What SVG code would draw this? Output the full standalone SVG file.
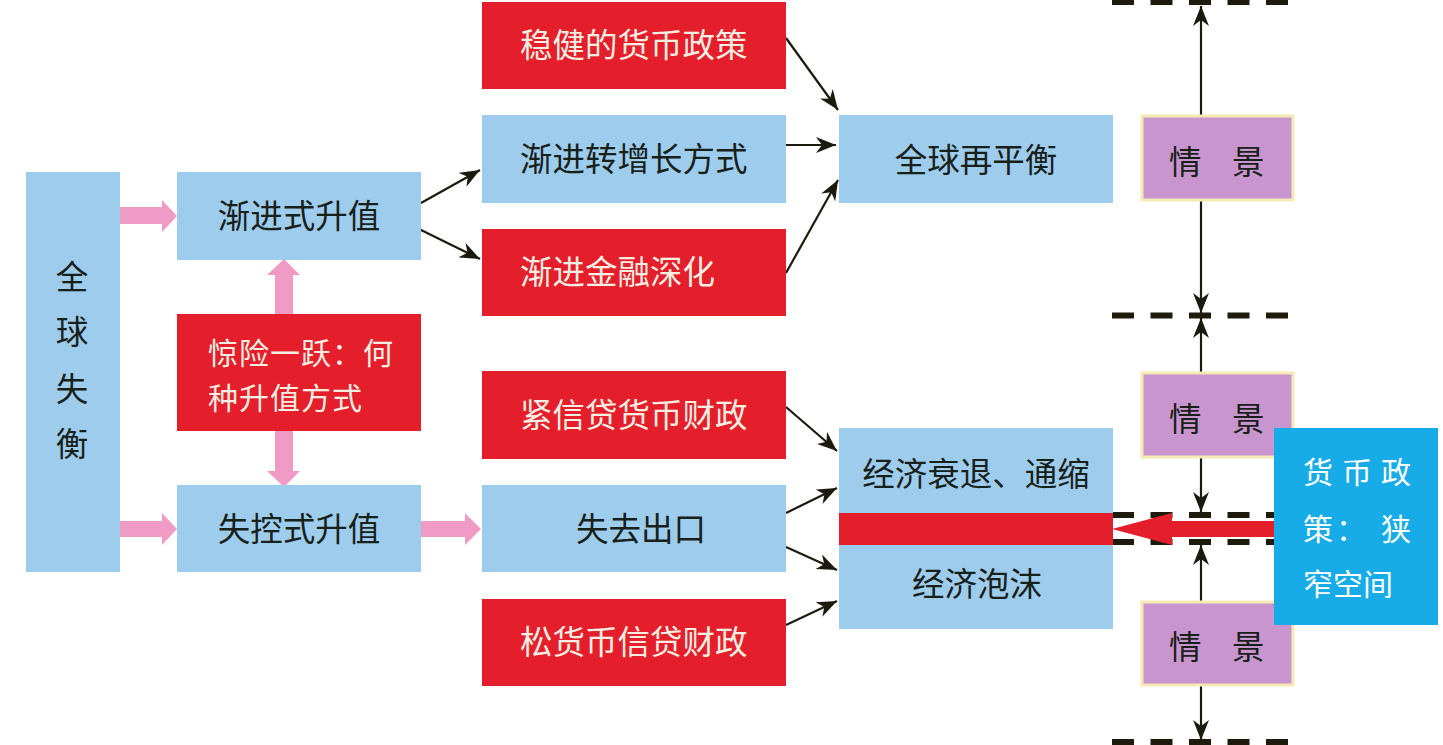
<svg xmlns="http://www.w3.org/2000/svg" width="1443" height="745" viewBox="0 0 1443 745">
<style>
.lb{fill:#9DCCEC}
.rd{fill:#E41E2B}
.pu{fill:#C895CF;stroke:#F6EAB4;stroke-width:3}
.t{font-family:"Noto Sans CJK SC","Noto Sans",sans-serif;font-size:32.5px;fill:#18201A}
.tw{font-family:"Noto Sans CJK SC","Noto Sans",sans-serif;font-size:32.5px;fill:#F6EEE2}
.pk{fill:#F09BC6}
.ln{stroke:#1B1A0C;stroke-width:2.2;fill:none;marker-end:url(#ah)}
.dash{stroke:#1F1B0C;stroke-width:6;stroke-dasharray:22 16.5;fill:none}
</style>
<defs>
<marker id="ah" markerUnits="userSpaceOnUse" markerWidth="22" markerHeight="16" refX="20" refY="8" orient="auto">
<path d="M0,0 L20,8 L0,16 L6,8 Z" fill="#1B1A0C"/>
</marker>
</defs>
<rect width="1443" height="745" fill="#FFFFFF"/>

<g id="connectors">
<path class="pk" d="M117,207 H162 V200 L177,216 L162,232 V224 H117 Z"/>
<path class="pk" d="M117,521 H162 V513 L177,529 L162,545 V537 H117 Z"/>
<path class="pk" d="M418,521 H465 V513 L481,529 L465,545 V537 H418 Z"/>
<path class="pk" d="M275,314 V275 H267 L284,259 L300,275 H293 V314 Z"/>
<path class="pk" d="M275,431 V471 H267 L284,487 L300,471 H293 V431 Z"/>
<line class="ln" x1="421" y1="203" x2="480" y2="170"/>
<line class="ln" x1="419" y1="229" x2="480" y2="259"/>
<line class="ln" x1="786" y1="38" x2="838" y2="110"/>
<line class="ln" x1="786" y1="145" x2="836" y2="145"/>
<line class="ln" x1="786" y1="273" x2="838" y2="180"/>
<line class="ln" x1="786" y1="407" x2="837" y2="451"/>
<line class="ln" x1="786" y1="513" x2="837" y2="488"/>
<line class="ln" x1="786" y1="547" x2="837" y2="570"/>
<line class="ln" x1="786" y1="625" x2="837" y2="601"/>
<line class="ln" x1="1201" y1="116" x2="1201" y2="6"/>
<line class="ln" x1="1201" y1="200" x2="1201" y2="313"/>
<line class="ln" x1="1201" y1="373" x2="1201" y2="318"/>
<line class="ln" x1="1201" y1="457" x2="1201" y2="512"/>
<line class="ln" x1="1201" y1="602" x2="1201" y2="545"/>
<line class="ln" x1="1201" y1="685" x2="1201" y2="740"/>
<line class="dash" x1="1112" y1="2" x2="1290" y2="2"/>
<line class="dash" x1="1112" y1="315.5" x2="1290" y2="315.5"/>
<line class="dash" x1="1112" y1="515" x2="1290" y2="515"/>
<line class="dash" x1="1112" y1="542" x2="1290" y2="542"/>
<line class="dash" x1="1112" y1="742" x2="1290" y2="742"/>
</g>

<g id="n-quanqiushiheng"><rect class="lb" x="26" y="172" width="94" height="400"/>
<text class="t" text-anchor="middle"><tspan x="72" y="289">全</tspan><tspan x="72" y="344">球</tspan><tspan x="72" y="401">失</tspan><tspan x="72" y="456">衡</tspan></text></g>

<g id="n-jianjinshi"><rect class="lb" x="177" y="172" width="244" height="88"/>
<text class="t" x="299" y="228" text-anchor="middle">渐进式升值</text></g>

<g id="n-jingxian"><rect class="rd" x="177" y="314" width="244" height="117"/>
<text class="tw" letter-spacing="1" style="font-size:30px"><tspan x="208" y="364">惊险一跃：何</tspan><tspan x="208" y="409">种升值方式</tspan></text></g>

<g id="n-shikongshi"><rect class="lb" x="177" y="485" width="244" height="87"/>
<text class="t" x="299" y="541" text-anchor="middle">失控式升值</text></g>

<g id="n-wenjian"><rect class="rd" x="482" y="2" width="304" height="87"/>
<text class="tw" x="520" y="57">稳健的货币政策</text></g>

<g id="n-jianjinzhuan"><rect class="lb" x="482" y="115" width="304" height="88"/>
<text class="t" x="520" y="171">渐进转增长方式</text></g>

<g id="n-jinrong"><rect class="rd" x="482" y="229" width="304" height="87"/>
<text class="tw" x="520" y="284">渐进金融深化</text></g>

<g id="n-jinxindai"><rect class="rd" x="482" y="371" width="304" height="88"/>
<text class="tw" x="520" y="427">紧信贷货币财政</text></g>

<g id="n-shiqu"><rect class="lb" x="482" y="485" width="304" height="87"/>
<text class="t" x="641" y="541" text-anchor="middle">失去出口</text></g>

<g id="n-songhuobi"><rect class="rd" x="482" y="599" width="304" height="87"/>
<text class="tw" x="520" y="654">松货币信贷财政</text></g>

<g id="n-zaipingheng"><rect class="lb" x="839" y="115" width="274" height="88"/>
<text class="t" x="976" y="172" text-anchor="middle">全球再平衡</text></g>

<g id="n-shuaitui"><rect class="lb" x="839" y="428" width="274" height="201"/>
<text class="t" x="976" y="486" text-anchor="middle">经济衰退、通缩</text>
<text class="t" x="977" y="596" text-anchor="middle">经济泡沫</text>
<rect class="rd" x="839" y="513" width="274" height="32"/></g>

<g id="n-qingjing1"><rect class="pu" x="1142" y="116" width="151" height="84"/>
<text class="t" y="174"><tspan x="1169">情</tspan><tspan x="1232">景</tspan></text></g>

<g id="n-qingjing2"><rect class="pu" x="1142" y="373" width="151" height="84"/>
<text class="t" y="431"><tspan x="1169">情</tspan><tspan x="1232">景</tspan></text></g>

<g id="n-qingjing3"><rect class="pu" x="1142" y="602" width="151" height="83"/>
<text class="t" y="659"><tspan x="1169">情</tspan><tspan x="1232">景</tspan></text></g>

<g id="n-redarrow"><path class="rd" d="M1112,529 L1172,513 V521 H1276 V537 H1172 V545 Z"/></g>

<g id="n-huobizhengce"><rect x="1274" y="428" width="164" height="197" fill="#17ACE7"/>
<text class="tw" style="fill:#FFFFFF;font-size:30px"><tspan x="1303" y="483">货</tspan><tspan x="1342" y="483">币</tspan><tspan x="1381" y="483">政</tspan><tspan x="1303" y="540">策</tspan><tspan x="1336" y="540">：</tspan><tspan x="1381" y="540">狭</tspan><tspan x="1303" y="595">窄空间</tspan></text></g>
</svg>
